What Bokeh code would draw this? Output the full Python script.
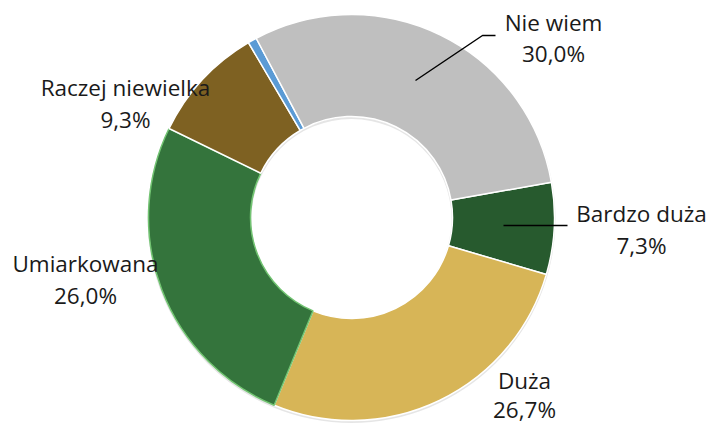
import math
from bokeh.plotting import figure
from bokeh.models import Range1d, ColumnDataSource
from bokeh.core.properties import value
from bokeh.embed import file_html
from bokeh.resources import INLINE

# data
categories = ["Bardzo duża", "Duża", "Umiarkowana", "Raczej niewielka", "", "Nie wiem"]
shares = [7.3, 26.7, 26.0, 9.3, 0.7, 30.0]
colors = ["#275A2E", "#D7B557", "#34743C", "#7E6122", "#5B9BD5", "#BFBFBF"]
edge_colors = ["white", "white", "#72C472", "white", "white", "white"]

W, H = 710, 428
p = figure(width=W, height=H, output_backend="svg", toolbar_location=None,
           x_range=Range1d(0, W), y_range=Range1d(0, H), min_border=0)
p.axis.visible = False
p.grid.visible = False
p.outline_line_color = None
p.background_fill_color = "white"

def fx(x): return x
def fy(y): return H - y

cx, cy = fx(351), fy(217)
r_out, r_in = 203, 101
rot0 = 80.0  # degrees clockwise from 12 o'clock where first slice starts

starts, ends = [], []
acc = rot0
for s in shares:
    a0 = acc
    a1 = acc + s * 3.6
    starts.append(math.radians(90 - a1))
    ends.append(math.radians(90 - a0))
    acc = a1

src = ColumnDataSource(dict(start=starts, end=ends, color=colors, edge=edge_colors))
# soft shadow
p.annulus(x=[cx], y=[cy - 1.5], inner_radius=r_in - 1, outer_radius=r_out + 1,
          fill_color="#000000", fill_alpha=0.10, line_color=None)
p.annular_wedge(x=cx, y=cy, inner_radius=r_in, outer_radius=r_out,
                start_angle="start", end_angle="end", fill_color="color",
                line_color="edge", line_width=1.5, source=src)

label_idx = [5, 0, 1, 2, 3]
label_x = [553, 641, 524, 85, 125]
line1_y = [22, 213, 380, 263, 87]
line2_y = [53, 245, 409, 295, 119]

names, pcts, xs, y1s, y2s = [], [], [], [], []
for k, i in enumerate(label_idx):
    names.append(categories[i])
    pcts.append(f"{shares[i]:.1f}".replace(".", ",") + "%")
    xs.append(fx(label_x[k]))
    y1s.append(fy(line1_y[k]))
    y2s.append(fy(line2_y[k]))

font = value("Open Sans")
p.text(x=xs, y=y1s, text=names, text_font=font, text_font_size="22.5px",
       text_align="center", text_baseline="middle", text_color="#1a1a1a")
p.text(x=xs, y=y2s, text=pcts, text_font=font, text_font_size="22.5px",
       text_align="center", text_baseline="middle", text_color="#1a1a1a")

# leader lines
p.line(x=[fx(415), fx(482), fx(495)], y=[fy(80), fy(35), fy(35)], line_color="black", line_width=1.5)
p.line(x=[fx(503), fx(567)], y=[fy(225), fy(225)], line_color="black", line_width=1.5)

open("out.html", "w").write(file_html(p, INLINE))
